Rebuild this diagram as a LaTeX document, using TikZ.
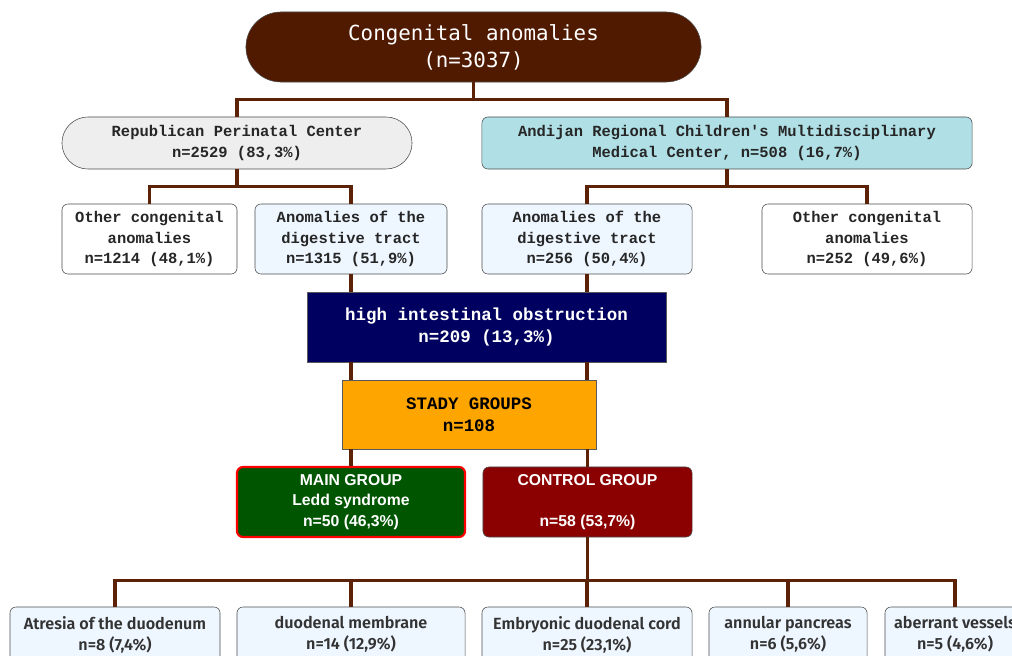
\documentclass[tikz,border=0pt]{standalone}
\usepackage{fontspec}
\setmainfont{Liberation Sans}
\newfontfamily\topfont{DejaVu Sans Mono}
\newfontfamily\labfont{Liberation Mono}
\newfontfamily\boxfont[UprightFont={* SemiBold}]{Fira Sans}
\usepackage{tikz}
\usetikzlibrary{positioning}
\definecolor{rootbrown}{RGB}{80,26,0}
\definecolor{linkbrown}{RGB}{92,34,8}
\definecolor{rpcgray}{RGB}{238,238,238}
\definecolor{arcblue}{RGB}{176,224,230}
\definecolor{digblue}{RGB}{238,246,255}
\definecolor{hionavy}{RGB}{0,0,96}
\definecolor{stadyorange}{RGB}{255,165,0}
\definecolor{maingreen}{RGB}{0,85,0}
\definecolor{ctrlred}{RGB}{139,0,0}
\tikzstyle{root} = [rectangle, rounded corners=0.875cm, minimum width=11.375cm, minimum height=1.75cm, align=center, draw=gray!60!black, fill=rootbrown, text=white, font=\topfont\fontsize{14.8}{19.2}\selectfont]
\tikzstyle{hospital} = [rectangle, rounded corners=0.15cm, minimum height=1.3cm, align=center, draw=gray!60!black, text=black!85, font=\labfont\bfseries\fontsize{11}{14.6}\selectfont]
\tikzstyle{category} = [hospital, minimum height=1.75cm]
\tikzstyle{process} = [rectangle, minimum height=1.75cm, align=center, draw=gray!70!black, font=\labfont\bfseries\fontsize{12.4}{16}\selectfont]
\tikzstyle{group} = [rectangle, rounded corners=0.15cm, minimum height=1.75cm, align=center, text=white, font=\bfseries\fontsize{11.2}{14.6}\selectfont]
\tikzstyle{defect} = [rectangle, rounded corners=0.15cm, minimum height=1.375cm, align=center, draw=gray!60!black, fill=digblue, text=black!80, font=\boxfont\fontsize{11.5}{15}\selectfont]
\tikzstyle{link} = [line width=2.2pt, draw=linkbrown]

\begin{document}
\begin{tikzpicture}[x=0.025cm, y=-0.025cm]
\useasboundingbox (0,0) rectangle (1012,656);

% levels 1 and 2
\node (root) [root] at (473.5,47) {Congenital anomalies\\(n=3037)};
\node (rpc) [hospital, fill=rpcgray, rounded corners=0.65cm, minimum width=8.75cm] at (237,143) {Republican Perinatal Center\\n=2529 (83,3\%)};
\node (arc) [hospital, fill=arcblue, minimum width=12.25cm] at (727,143) {Andijan Regional Children\textquotesingle s Multidisciplinary\\Medical Center, n=508 (16,7\%)};

% level 3
\node (oth1) [category, fill=white, minimum width=4.375cm] at (149.5,239) {Other congenital\\anomalies\\n=1214 (48,1\%)};
\node (dig1) [category, fill=digblue, minimum width=4.8cm] at (351,239) {Anomalies of the\\digestive tract\\n=1315 (51,9\%)};
\node (dig2) [category, fill=digblue, minimum width=5.25cm] at (587,239) {Anomalies of the\\digestive tract\\n=256 (50,4\%)};
\node (oth2) [category, fill=white, minimum width=5.25cm] at (867,239) {Other congenital\\anomalies\\n=252 (49,6\%)};

% obstruction and study groups
\node (hio) [process, fill=hionavy, text=white, minimum width=8.975cm] at (486.5,327) {high intestinal obstruction\\n=209 (13,3\%)};
\node (stady) [process, fill=stadyorange, text=black, minimum width=6.35cm, minimum height=1.725cm] at (469,414.5) {STADY GROUPS\\n=108};
\node (main) [group, fill=maingreen, draw=red, line width=1.5pt, minimum width=5.7cm] at (351,502) {MAIN GROUP\\Ledd syndrome\\n=50 (46,3\%)};
\node (ctrl) [group, fill=ctrlred, draw=black!70, minimum width=5.225cm] at (587.5,502) {CONTROL GROUP\\~\\n=58 (53,7\%)};

% bottom row
\node (b1) [defect, minimum width=5.25cm] at (115,634.5) {Atresia of the duodenum\\n=8 (7,4\%)};
\node (b2) [defect, minimum width=5.7cm] at (351,634.5) {duodenal membrane\\n=14 (12,9\%)};
\node (b3) [defect, minimum width=5.25cm] at (587,634.5) {Embryonic duodenal cord\\n=25 (23,1\%)};
\node (b4) [defect, minimum width=3.95cm] at (788,634.5) {annular pancreas\\n=6 (5,6\%)};
\node (b5) [defect, minimum width=3.5cm] at (955,634.5) {aberrant vessels\\n=5 (4,6\%)};

% connectors
\draw [link] (root.south) -- ++(0,17.5) coordinate (j1) -| (rpc.north);
\draw [link] (j1) -| (arc.north);
\draw [link] (rpc.south) -- ++(0,17.5) coordinate (j2) -| (oth1.north);
\draw [link] (j2) -| (dig1.north);
\draw [link] (arc.south) -- ++(0,17.5) coordinate (j3) -| (dig2.north);
\draw [link] (j3) -| (oth2.north);
\draw [link] (dig1.south) -- (dig1.south |- hio.north);
\draw [link] (dig2.south) -- (dig2.south |- hio.north);
\draw [link] (hio.south -| dig1.south) -- (stady.north -| dig1.south);
\draw [link] (hio.south -| dig2.south) -- (stady.north -| dig2.south);
\draw [link] (stady.south -| main.north) -- (main.north);
\draw [link] (stady.south -| ctrl.north) -- (ctrl.north);
\draw [link] (ctrl.south) -- ++(0,43) coordinate (j4) -| (b1.north);
\draw [link] (j4) -| (b2.north);
\draw [link] (j4) -| (b3.north);
\draw [link] (j4) -| (b4.north);
\draw [link] (j4) -| (b5.north);

\end{tikzpicture}
\end{document}
